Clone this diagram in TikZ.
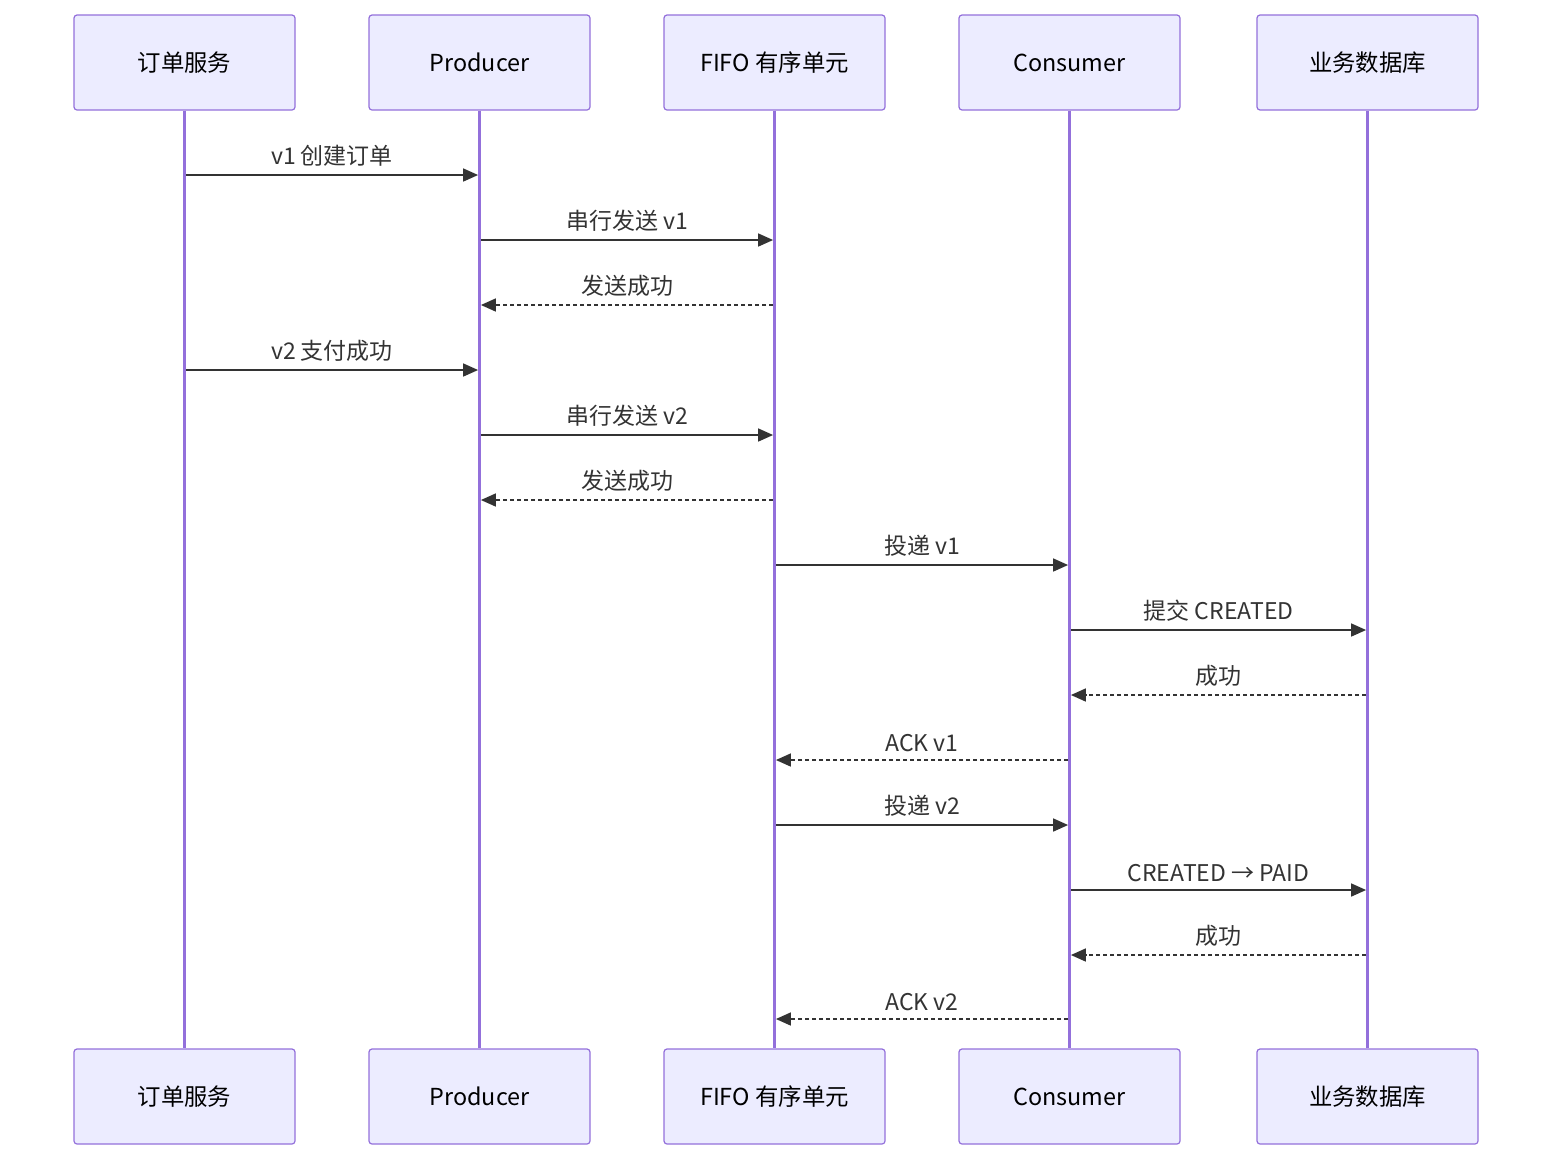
\documentclass[tikz,border=0pt]{standalone}
\usepackage{fontspec}
\setmainfont{Noto Sans CJK SC}
\usetikzlibrary{arrows.meta}
\definecolor{boxfill}{HTML}{ECECFF}
\definecolor{boxline}{HTML}{9370DB}
\definecolor{msgline}{HTML}{333333}
\begin{document}
\begin{tikzpicture}[x=0.5pt,y=-0.5pt,
  actor/.style={draw=boxline, fill=boxfill, line width=0.6pt, rounded corners=1.5pt,
    minimum width=110.5pt, minimum height=47.5pt, inner sep=0pt, font=\fontsize{11.7pt}{13pt}\selectfont, text=black},
  life/.style={draw=boxline, line width=1.3pt},
  sync/.style={draw=msgline, line width=0.8pt, -{Triangle[length=7.5pt,width=6.5pt]}},
  reply/.style={sync, dash pattern=on 2pt off 1.5pt},
  lbl/.style={above=3.8pt, font=\fontsize{11.5pt}{13pt}\selectfont, text=msgline, inner sep=0pt}]
\useasboundingbox (0,0) rectangle (1568,1174);
% top actors
\node[actor] (t1) at (184.5,62.5) {订单服务};
\node[actor] (t2) at (479.5,62.5) {Producer};
\node[actor] (t3) at (774.5,62.5) {FIFO 有序单元};
\node[actor] (t4) at (1069.5,62.5) {Consumer};
\node[actor] (t5) at (1367.5,62.5) {业务数据库};
% bottom actors
\node[actor] (b1) at (184.5,1096.5) {订单服务};
\node[actor] (b2) at (479.5,1096.5) {Producer};
\node[actor] (b3) at (774.5,1096.5) {FIFO 有序单元};
\node[actor] (b4) at (1069.5,1096.5) {Consumer};
\node[actor] (b5) at (1367.5,1096.5) {业务数据库};
% lifelines
\foreach \i in {1,...,5} { \draw[life] (t\i.south) -- (b\i.north); }
% message rows
\foreach \n/\yy in {1/175,2/240,3/305,4/370,5/435,6/500,7/565,8/630,9/695,10/760,11/825,12/890,13/955,14/1019}
  { \coordinate (r\n) at (0,\yy); }
\draw[sync]  ([xshift=0.7pt]t1 |- r1) -- ([xshift=-0.7pt]t2 |- r1) node[lbl, midway] {v1 创建订单};
\draw[sync]  ([xshift=0.7pt]t2 |- r2) -- ([xshift=-0.7pt]t3 |- r2) node[lbl, midway] {串行发送 v1};
\draw[reply] ([xshift=-0.7pt]t3 |- r3) -- ([xshift=0.7pt]t2 |- r3) node[lbl, midway] {发送成功};
\draw[sync]  ([xshift=0.7pt]t1 |- r4) -- ([xshift=-0.7pt]t2 |- r4) node[lbl, midway] {v2 支付成功};
\draw[sync]  ([xshift=0.7pt]t2 |- r5) -- ([xshift=-0.7pt]t3 |- r5) node[lbl, midway] {串行发送 v2};
\draw[reply] ([xshift=-0.7pt]t3 |- r6) -- ([xshift=0.7pt]t2 |- r6) node[lbl, midway] {发送成功};
\draw[sync]  ([xshift=0.7pt]t3 |- r7) -- ([xshift=-0.7pt]t4 |- r7) node[lbl, midway] {投递 v1};
\draw[sync]  ([xshift=0.7pt]t4 |- r8) -- ([xshift=-0.7pt]t5 |- r8) node[lbl, midway] {提交 CREATED};
\draw[reply] ([xshift=-0.7pt]t5 |- r9) -- ([xshift=0.7pt]t4 |- r9) node[lbl, midway] {成功};
\draw[reply] ([xshift=-0.7pt]t4 |- r10) -- ([xshift=0.7pt]t3 |- r10) node[lbl, midway] {ACK v1};
\draw[sync]  ([xshift=0.7pt]t3 |- r11) -- ([xshift=-0.7pt]t4 |- r11) node[lbl, midway] {投递 v2};
\draw[sync]  ([xshift=0.7pt]t4 |- r12) -- ([xshift=-0.7pt]t5 |- r12) node[lbl, midway] {CREATED → PAID};
\draw[reply] ([xshift=-0.7pt]t5 |- r13) -- ([xshift=0.7pt]t4 |- r13) node[lbl, midway] {成功};
\draw[reply] ([xshift=-0.7pt]t4 |- r14) -- ([xshift=0.7pt]t3 |- r14) node[lbl, midway] {ACK v2};
\end{tikzpicture}
\end{document}
